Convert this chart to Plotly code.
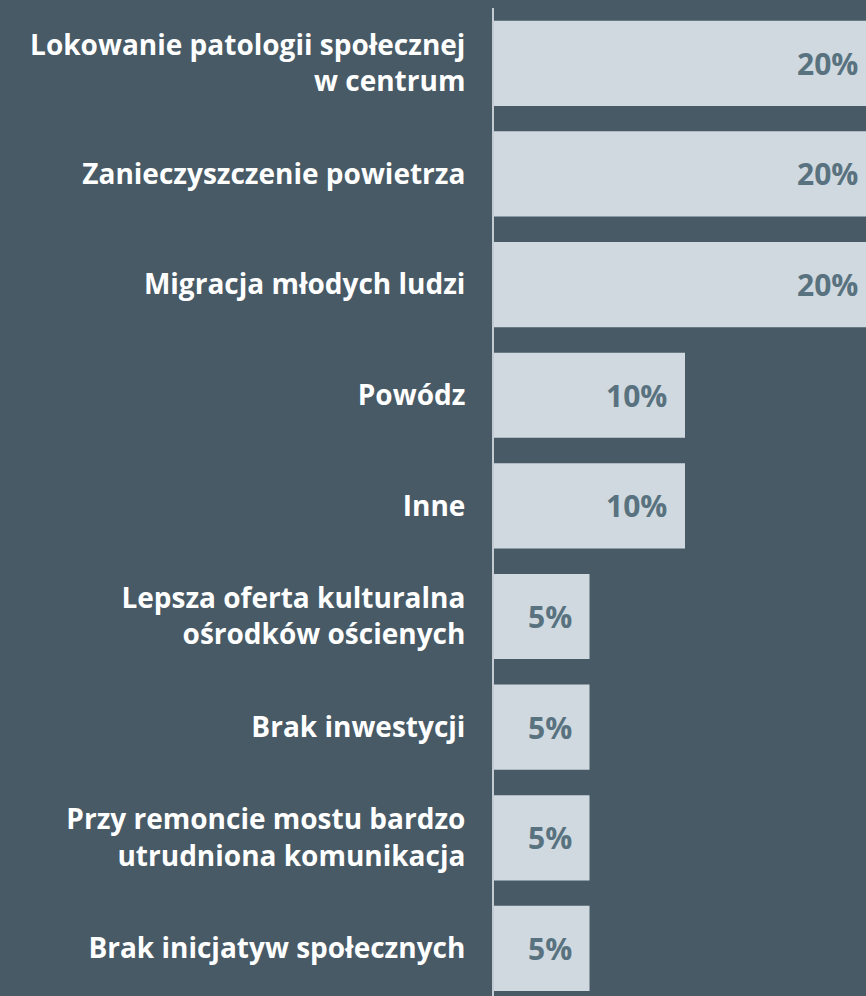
import plotly.graph_objects as go

categories = [
    "Lokowanie patologii społecznej<br>w centrum",
    "Zanieczyszczenie powietrza",
    "Migracja młodych ludzi",
    "Powódz",
    "Inne",
    "Lepsza oferta kulturalna<br>ośrodków ościenych",
    "Brak inwestycji",
    "Przy remoncie mostu bardzo<br>utrudniona komunikacja",
    "Brak inicjatyw społecznych",
]
values = [20, 20, 20, 10, 10, 5, 5, 5, 5]
value_labels = [f"{v}%" for v in values]

BG = "#475a66"
BAR = "#d0d9df"
VAL = "#597280"
FONT = "Open Sans"

fig = go.Figure(
    go.Bar(
        x=values,
        y=categories,
        orientation="h",
        marker=dict(color=BAR, line=dict(width=0)),
        hoverinfo="skip",
    )
)

for cat, v, lab in zip(categories, values, value_labels):
    fig.add_annotation(
        x=v, y=cat, xref="x", yref="y",
        text=lab, showarrow=False,
        xanchor="right", yanchor="middle", xshift=-16,
        font=dict(family=FONT, size=30, color=VAL, weight="bold"),
    )

# The source chart is cropped on the right: its plot area runs past the window edge.
fig.update_layout(
    width=876,
    height=996,
    margin=dict(l=494, r=0, t=8, b=0),
    paper_bgcolor=BG,
    plot_bgcolor=BG,
    bargap=0.23,
    showlegend=False,
)
fig.update_xaxes(range=[0, 20], visible=False, fixedrange=True)
fig.update_yaxes(
    type="category",
    range=[8.43, -0.5],
    showgrid=False,
    zeroline=False,
    showline=True,
    linecolor="#c3ccd2",
    linewidth=2,
    ticks="",
    ticklabelstandoff=21,
    tickfont=dict(family=FONT, size=28, color="white", weight="bold"),
    fixedrange=True,
)

fig.write_html(
    "out.html",
    config={"displayModeBar": False},
    post_script=(
        "document.body.style.margin='0';"
        "document.body.style.overflow='hidden';"
        "document.body.style.background='" + BG + "';"
    ),
)
